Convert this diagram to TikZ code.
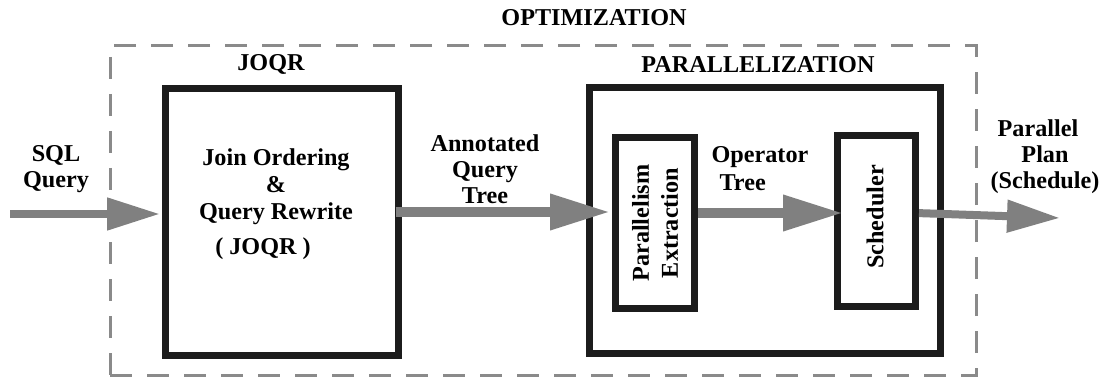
\documentclass[tikz,border=0pt]{standalone}
\usepackage{fontspec}
\setmainfont{Liberation Serif}
\usetikzlibrary{arrows.meta}
\definecolor{boxblack}{HTML}{1C1C1C}
\definecolor{flowgray}{HTML}{808080}
\definecolor{dashgray}{HTML}{8A8A8A}
\tikzset{
  lbl/.style={font=\fontsize{24.2}{26}\selectfont\bfseries, inner sep=0pt, align=center, text=black},
  stagebox/.style={draw=boxblack, line width=7pt, outer sep=0pt, inner sep=0pt, fill=none},
  groupbox/.style={draw=dashgray, line width=3pt, dash pattern=on 22pt off 15pt, outer sep=0pt, inner sep=0pt},
  flowthick/.style={draw=flowgray, line width=10pt, -{Triangle[length=60pt,width=34pt]}, flowgray},
  flowthin/.style={draw=flowgray, line width=8pt, -{Triangle[length=53pt,width=31pt]}, flowgray},
}
\begin{document}
\begin{tikzpicture}[x=1pt,y=-1pt]
\useasboundingbox (0,0) rectangle (1109,377);

% optimization group (dashed)
\node[groupbox, minimum width=866pt, minimum height=329pt] (opt) at (543,210.5) {};
\node[lbl] (optlbl) at (594,18) {OPTIMIZATION};

% join ordering and query rewrite stage
\node[stagebox, minimum width=233pt, minimum height=267pt] (joqr) at (282,222) {};
\node[lbl] (joqrlbl) at (271,64) {JOQR};
\node[lbl, font=\fontsize{24.2}{27}\selectfont\bfseries] (joqrtxt) at (276,187) {Join Ordering\\\&\\Query Rewrite};
\node[lbl] (joqrabbr) at (263,249) {( JOQR )};

% parallelization stage
\node[stagebox, minimum width=351pt, minimum height=266pt] (par) at (765,220.5) {};
\node[lbl] (parlbl) at (758,65) {PARALLELIZATION};

\node[stagebox, minimum width=79pt, minimum height=171pt] (pe) at (655,223) {};
\node[lbl, rotate=90, font=\fontsize{24.2}{29}\selectfont\bfseries] (petxt) at (pe.center) {Parallelism\\Extraction};

\node[stagebox, minimum width=78pt, minimum height=171pt] (sch) at (876.5,221) {};
\node[lbl, rotate=90] (schtxt) at (875,217) {Scheduler};

% flow labels
\node[lbl] (sqllbl) at (56,169) {SQL\\Query};
\node[lbl] (aqtlbl) at (485,169) {Annotated\\Query\\Tree};
\node[lbl, align=left, font=\fontsize{24.2}{28}\selectfont\bfseries] (optreelbl) at (760,169) {Operator\\\hspace*{8pt}Tree};
\node[lbl] (pplbl) at (1045,157) {Parallel\hspace*{14pt}\\Plan\hspace*{22pt}\\(Schedule)};

% flow arrows
\coordinate (sqlin) at (10,214);
\coordinate (ya) at (0,212);
\coordinate (yb) at (0,213);
\coordinate (planout) at (1060,218);

\draw[flowthin, shorten >=5.5pt] (sqlin) -- (joqr.west |- sqlin);
\draw[flowthick, shorten <=-3pt, shorten >=5.5pt] (joqr.east |- ya) -- (pe.west |- ya);
\draw[flowthick, shorten <=3.5pt, shorten >=-5.5pt] (pe.east |- yb) -- (sch.west |- yb);
\draw[flowthin, shorten <=3.5pt] (sch.east |- yb) -- (planout);
\end{tikzpicture}
\end{document}
